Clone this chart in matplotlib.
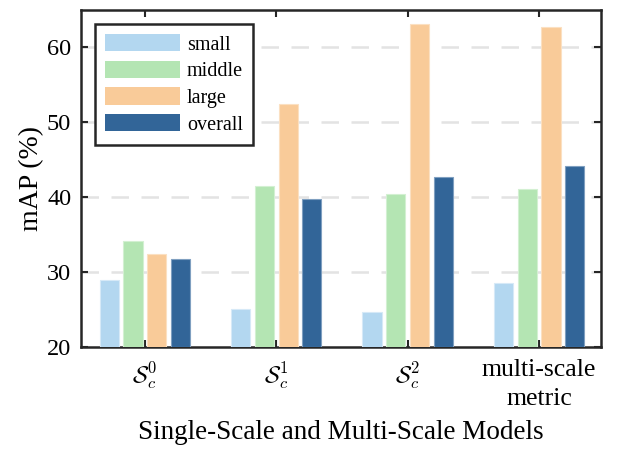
import numpy as np
import matplotlib
matplotlib.use("Agg")
import matplotlib.pyplot as plt

plt.rcParams['font.family'] = ['Liberation Serif', 'DejaVu Serif']
plt.rcParams['mathtext.fontset'] = 'cm'

models = [r'$\mathcal{S}_c^0$', r'$\mathcal{S}_c^1$', r'$\mathcal{S}_c^2$', 'multi-scale\nmetric']
series = ['small', 'middle', 'large', 'overall']
small = [28.9, 25.1, 24.7, 28.6]
middle = [34.2, 41.5, 40.4, 41.1]
large = [32.4, 52.5, 63.1, 62.7]
overall = [31.8, 39.8, 42.7, 44.1]
colors = ['#b3d7f0', '#b4e5b3', '#f9cb99', '#326598']
edges = ['#d6e9f7', '#d3f0d2', '#fbe0c2', '#7f9fc0']

values = [small, middle, large, overall]

fig = plt.figure(figsize=(6.27, 4.5), dpi=100)
ax = fig.add_axes([0.129, 0.229, 0.8295, 0.749])

x = np.arange(1, len(models) + 1)
step = 0.181
width = 0.145
for i, (name, vals) in enumerate(zip(series, values)):
    ax.bar(x + (i - 1.5) * step, np.array(vals) - 20, width, bottom=20,
           color=colors[i], edgecolor=edges[i], linewidth=0.8,
           label=name, zorder=3)

ax.set_ylim(20, 65)
ax.set_xlim(0.513, 4.471)
ax.set_yticks([20, 30, 40, 50, 60])
ax.set_xticks(x)
ax.set_xticklabels(models)
for yv in [30, 40, 50, 60]:
    ax.axhline(yv, color='#e3e3e3', linewidth=1.8, dashes=(7, 5), zorder=1)

ax.tick_params(axis='both', direction='in', top=True, right=True,
               length=5, width=1.5, labelsize=17.5, color='#262626')
ax.tick_params(axis='y', pad=7)
ax.tick_params(axis='x', pad=9)
for lab in ax.get_xticklabels():
    if lab.get_text().startswith('$'):
        lab.set_fontsize(17)
    else:
        lab.set_fontsize(18.5)
        lab.set_linespacing(1.4)
for s in ax.spines.values():
    s.set_linewidth(1.8)
    s.set_color('#262626')

ax.set_ylabel('mAP (%)', fontsize=20, labelpad=2)
ax.set_xlabel('Single-Scale and Multi-Scale Models', fontsize=19.5, labelpad=7)

leg = ax.legend(loc='upper left', bbox_to_anchor=(0.027, 0.958), fontsize=14.5,
                handlelength=3.7, handleheight=0.95, fancybox=False,
                framealpha=1, edgecolor='#262626', borderpad=0.5,
                labelspacing=0.3, handletextpad=0.36, borderaxespad=0)
leg.get_frame().set_linewidth(1.8)
for p in leg.get_patches():
    p.set_edgecolor('none')

fig.savefig('out.png', dpi=100)
